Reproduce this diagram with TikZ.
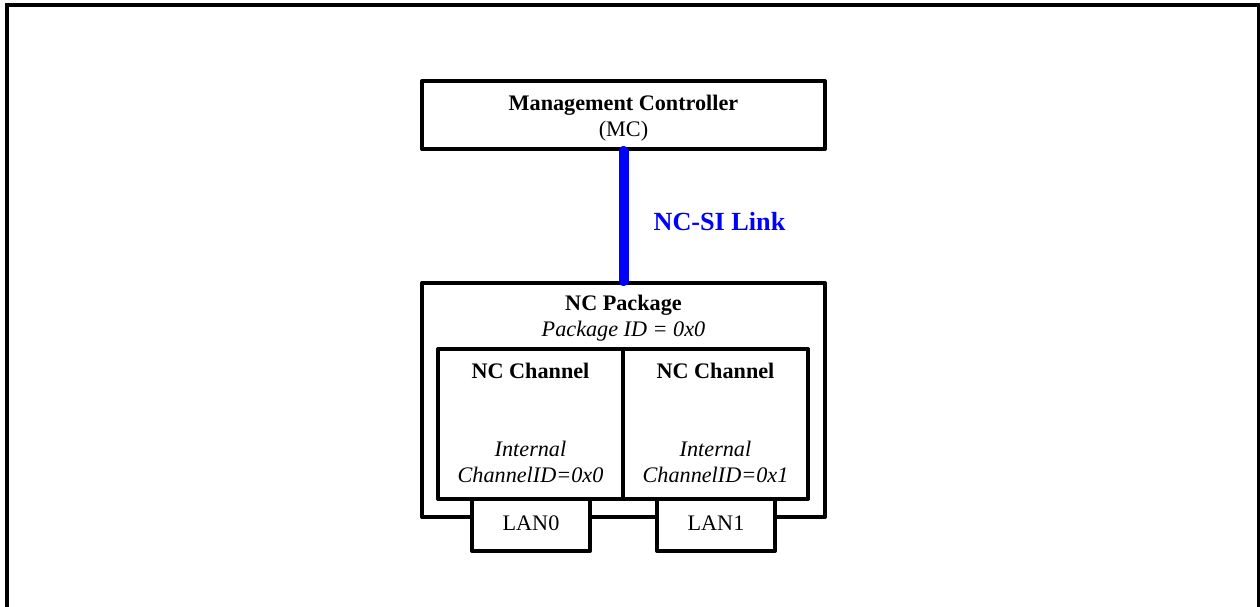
\documentclass[tikz,border=0pt]{standalone}
\usepackage{fontspec}
\setmainfont{Liberation Serif}
\begin{document}
\begin{tikzpicture}[x=0.5pt,y=-0.5pt,
  box/.style={draw=black, line width=2pt, fill=white, rectangle, inner sep=0pt, line join=round},
  lbl/.style={align=center, font=\fontsize{11.1}{13.2}\selectfont, inner sep=0pt},
  frame/.style={line width=2pt},
  link/.style={draw={rgb,255:red,0;green,0;blue,255}, line width=5pt, line cap=round}]
\useasboundingbox (0,0) rectangle (1260,606);
\draw[frame] (7,620) -- (7,5) -- (1259,5) -- (1259,620);
% Management controller
\node[box, minimum width=403*0.5pt, minimum height=68*0.5pt] (mc) at (623.5,115) {};
\node[lbl] (mctext) at (623.5,118) {\textbf{Management Controller}\\(MC)};
% Package
\node[box, minimum width=403*0.5pt, minimum height=234*0.5pt] (pkg) at (623.5,400) {};
\node[lbl] (pkgtext) at (623.5,318) {\textbf{NC Package}\\\textit{Package ID = 0x0}};
% Channels
\node[box, minimum width=185*0.5pt, minimum height=150*0.5pt] (ch0) at (530.5,424) {};
\node[box, minimum width=185*0.5pt, minimum height=150*0.5pt] (ch1) at (715.5,424) {};
\node[lbl] (ch0title) at (530.5,371) {\textbf{NC Channel}};
\node[lbl] (ch1title) at (715.5,371) {\textbf{NC Channel}};
\node[lbl] (ch0id) at (530.5,462) {\textit{Internal}\\\textit{ChannelID=0x0}};
\node[lbl] (ch1id) at (715.5,462) {\textit{Internal}\\\textit{ChannelID=0x1}};
% LANs
\node[box, minimum width=118*0.5pt, minimum height=52*0.5pt] (lan0) at (531,525) {};
\node[box, minimum width=118*0.5pt, minimum height=52*0.5pt] (lan1) at (716,525) {};
\node[lbl] (lan0text) at (531,523) {LAN0};
\node[lbl] (lan1text) at (716,523) {LAN1};
% Link
\draw[link] (mc.south) -- (pkg.north);
\node[lbl, font=\fontsize{13.1}{15}\selectfont, text={rgb,255:red,0;green,0;blue,255}] (linktext) at (719.5,222) {\textbf{NC-SI Link}};
\end{tikzpicture}
\end{document}
